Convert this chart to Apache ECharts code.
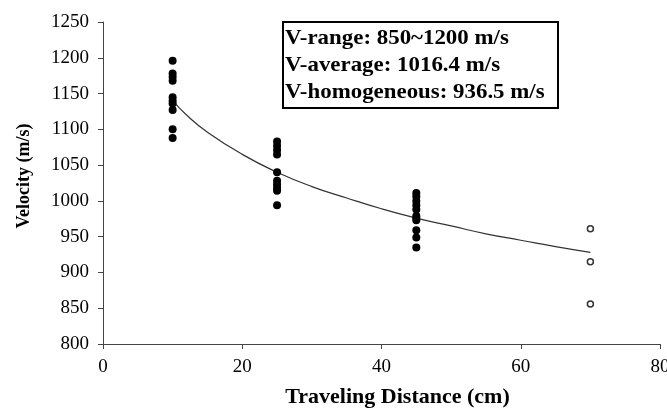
<!DOCTYPE html>
<html>
<head>
<meta charset="utf-8">
<script src="https://cdn.jsdelivr.net/npm/echarts@6/dist/echarts.min.js"></script>
<style>html,body{margin:0;padding:0;background:#fff;}#c{width:667px;height:408px;}</style>
</head>
<body>
<div id="c"></div>
<script>
// Measured velocities (m/s) at each traveling distance (cm)
var dist10 = 10, vel10 = [1196, 1178, 1173, 1168, 1145, 1140, 1136, 1127, 1100, 1088];
var dist25 = 25, vel25 = [1083, 1077, 1071, 1065, 1040, 1028, 1023, 1018, 1014, 994];
var dist45 = 45, vel45 = [1011, 1006, 1000, 994, 988, 979, 976, 973, 959, 949, 935];
var dist70 = 70, vel70 = [961, 915, 856];
// Trend curve
var trendX = [10, 12, 15, 20, 25, 30, 35, 40, 45, 50, 55, 60, 65, 70];
var trendY = [1140, 1120, 1096, 1065, 1040, 1020, 1004, 989, 976, 965, 954, 945, 936, 928];
var infoLines = ['V-range: 850~1200 m/s', 'V-average: 1016.4 m/s', 'V-homogeneous: 936.5 m/s'];
var xTicks = [0, 20, 40, 60, 80];
var yMin = 800, yMax = 1250, yStep = 50;

function pairs(x, ys) { return ys.map(function (v) { return [x, v]; }); }
var filled = [].concat(pairs(dist10, vel10), pairs(dist25, vel25), pairs(dist45, vel45));
var open = pairs(dist70, vel70);
var trend = trendX.map(function (x, i) { return [x, trendY[i]]; });

var serif = 'Liberation Serif';
var axisColor = '#444';
var chart = echarts.init(document.getElementById('c'));
chart.setOption({
  animation: false,
  backgroundColor: '#fff',
  grid: { left: 103, right: 7, top: 22, bottom: 64, containLabel: false, outerBoundsMode: 'none' },
  xAxis: {
    type: 'value', min: xTicks[0], max: xTicks[xTicks.length - 1], interval: 20,
    name: 'Traveling Distance (cm)', nameLocation: 'middle', nameGap: 42,
    nameTextStyle: { fontFamily: serif, fontWeight: 'bold', fontSize: 22, color: '#000', padding: [0, 0, 0, 32] },
    axisLine: { show: true, lineStyle: { color: axisColor, width: 1 } },
    axisTick: { show: true, length: 5, inside: false, lineStyle: { color: axisColor } },
    axisLabel: { fontFamily: serif, fontSize: 19, color: '#000', margin: 14, formatter: function (v) { return String(v); } },
    splitLine: { show: false }
  },
  yAxis: {
    type: 'value', min: yMin, max: yMax, interval: yStep,
    name: 'Velocity (m/s)', nameLocation: 'middle', nameGap: 70, nameRotate: 90,
    nameTextStyle: { fontFamily: serif, fontWeight: 'bold', fontSize: 18, color: '#000', padding: [0, 0, 0, 14] },
    axisLine: { show: true, lineStyle: { color: axisColor, width: 1 } },
    axisTick: { show: true, length: 5, inside: false, lineStyle: { color: axisColor } },
    axisLabel: { fontFamily: serif, fontSize: 19, color: '#000', margin: 14, formatter: function (v) { return String(v); } },
    splitLine: { show: false }
  },
  series: [
    {
      type: 'line', data: trend, smooth: true, symbol: 'none',
      lineStyle: { color: '#333', width: 1.2 }, z: 1
    },
    {
      type: 'scatter', data: filled, symbol: 'circle', symbolSize: 8,
      itemStyle: { color: '#000', opacity: 1 }, z: 3
    },
    {
      type: 'scatter', data: open, symbol: 'circle', symbolSize: 6,
      itemStyle: { color: '#fff', borderColor: '#333', borderWidth: 1.5, opacity: 1 }, z: 3
    }
  ],
  graphic: [
    {
      type: 'rect', left: 282, top: 21,
      shape: { width: 275, height: 86 },
      style: { fill: '#fff', stroke: '#000', lineWidth: 2 }, z: 10
    },
    {
      type: 'text', x: 285, y: 25, scaleX: 1.09, z: 11,
      style: {
        text: infoLines.join('\n'), fontFamily: serif, fontWeight: 'bold',
        fontSize: 21, lineHeight: 27, fill: '#000', verticalAlign: 'top', align: 'left'
      }
    }
  ]
});
</script>
</body>
</html>
